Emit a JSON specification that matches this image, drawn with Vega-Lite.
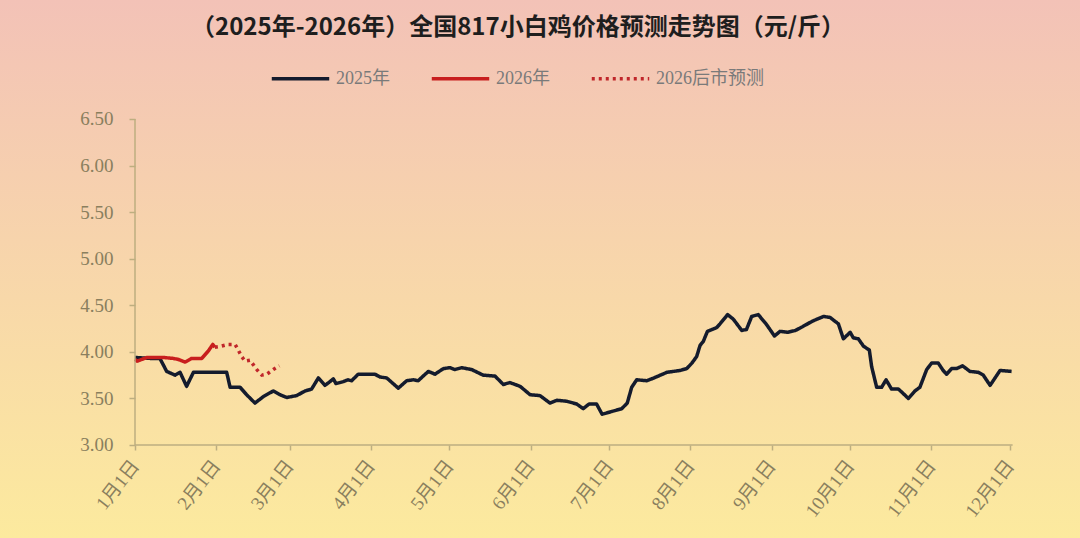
{
  "$schema": "https://vega.github.io/schema/vega-lite/v6.json",
  "width": 1080,
  "height": 538,
  "autosize": {"type": "none"},
  "padding": 0,
  "background": "#F8D8AC",
  "view": {
    "fill": {"gradient": "linear", "x1": 0, "y1": 0, "x2": 0, "y2": 1,
      "stops": [{"offset": 0, "color": "#F3C2B7"}, {"offset": 1, "color": "#FCEA9E"}]},
    "stroke": null
  },
  "title": {
    "text": "（2025年-2026年）全国817小白鸡价格预测走势图（元/斤）",
    "font": "Noto Sans CJK SC",
    "fontSize": 24,
    "fontWeight": "bold",
    "color": "#1E1E1E",
    "anchor": "middle",
    "frame": "group",
    "baseline": "middle",
    "offset": -52,
    "dx": -22
  },
  "datasets": {
    "price": [
      {"series": "2025年", "day": 0, "price": 3.94},
      {"series": "2025年", "day": 5.7, "price": 3.93},
      {"series": "2025年", "day": 9.5, "price": 3.93},
      {"series": "2025年", "day": 12.1, "price": 3.79},
      {"series": "2025年", "day": 15.3, "price": 3.75},
      {"series": "2025年", "day": 17.2, "price": 3.78},
      {"series": "2025年", "day": 19.7, "price": 3.63},
      {"series": "2025年", "day": 22.3, "price": 3.78},
      {"series": "2025年", "day": 35.0, "price": 3.78},
      {"series": "2025年", "day": 36.3, "price": 3.62},
      {"series": "2025年", "day": 40.1, "price": 3.62},
      {"series": "2025年", "day": 42.6, "price": 3.54},
      {"series": "2025年", "day": 45.8, "price": 3.45},
      {"series": "2025年", "day": 49.0, "price": 3.52},
      {"series": "2025年", "day": 52.8, "price": 3.58},
      {"series": "2025年", "day": 55.3, "price": 3.54},
      {"series": "2025年", "day": 57.9, "price": 3.51},
      {"series": "2025年", "day": 61.7, "price": 3.53},
      {"series": "2025年", "day": 64.9, "price": 3.58},
      {"series": "2025年", "day": 67.4, "price": 3.60},
      {"series": "2025年", "day": 70.0, "price": 3.72},
      {"series": "2025年", "day": 72.5, "price": 3.64},
      {"series": "2025年", "day": 74.4, "price": 3.68},
      {"series": "2025年", "day": 75.7, "price": 3.71},
      {"series": "2025年", "day": 76.7, "price": 3.66},
      {"series": "2025年", "day": 79.5, "price": 3.68},
      {"series": "2025年", "day": 81.3, "price": 3.70},
      {"series": "2025年", "day": 82.7, "price": 3.69},
      {"series": "2025年", "day": 85.2, "price": 3.76},
      {"series": "2025年", "day": 91.6, "price": 3.76},
      {"series": "2025年", "day": 93.5, "price": 3.73},
      {"series": "2025年", "day": 96.1, "price": 3.72},
      {"series": "2025年", "day": 100.5, "price": 3.61},
      {"series": "2025年", "day": 103.7, "price": 3.69},
      {"series": "2025年", "day": 106.2, "price": 3.70},
      {"series": "2025年", "day": 108.1, "price": 3.69},
      {"series": "2025年", "day": 110.0, "price": 3.74},
      {"series": "2025年", "day": 112.0, "price": 3.79},
      {"series": "2025年", "day": 114.5, "price": 3.76},
      {"series": "2025年", "day": 117.7, "price": 3.82},
      {"series": "2025年", "day": 120.2, "price": 3.83},
      {"series": "2025年", "day": 122.1, "price": 3.81},
      {"series": "2025年", "day": 124.7, "price": 3.83},
      {"series": "2025年", "day": 128.5, "price": 3.81},
      {"series": "2025年", "day": 132.9, "price": 3.75},
      {"series": "2025年", "day": 137.4, "price": 3.74},
      {"series": "2025年", "day": 140.6, "price": 3.65},
      {"series": "2025年", "day": 143.1, "price": 3.67},
      {"series": "2025年", "day": 147.0, "price": 3.63},
      {"series": "2025年", "day": 150.8, "price": 3.54},
      {"series": "2025年", "day": 154.6, "price": 3.53},
      {"series": "2025年", "day": 158.4, "price": 3.45},
      {"series": "2025年", "day": 161.0, "price": 3.48},
      {"series": "2025年", "day": 164.8, "price": 3.47},
      {"series": "2025年", "day": 168.6, "price": 3.44},
      {"series": "2025年", "day": 171.1, "price": 3.39},
      {"series": "2025年", "day": 173.3, "price": 3.44},
      {"series": "2025年", "day": 176.2, "price": 3.44},
      {"series": "2025年", "day": 178.3, "price": 3.33},
      {"series": "2025年", "day": 182.0, "price": 3.36},
      {"series": "2025年", "day": 185.8, "price": 3.39},
      {"series": "2025年", "day": 187.9, "price": 3.45},
      {"series": "2025年", "day": 189.6, "price": 3.62},
      {"series": "2025年", "day": 191.5, "price": 3.70},
      {"series": "2025年", "day": 195.4, "price": 3.69},
      {"series": "2025年", "day": 198.1, "price": 3.72},
      {"series": "2025年", "day": 203.0, "price": 3.78},
      {"series": "2025年", "day": 208.0, "price": 3.80},
      {"series": "2025年", "day": 210.6, "price": 3.82},
      {"series": "2025年", "day": 212.6, "price": 3.88},
      {"series": "2025年", "day": 214.4, "price": 3.95},
      {"series": "2025年", "day": 215.7, "price": 4.07},
      {"series": "2025年", "day": 216.9, "price": 4.11},
      {"series": "2025年", "day": 218.5, "price": 4.22},
      {"series": "2025年", "day": 222.0, "price": 4.26},
      {"series": "2025年", "day": 223.3, "price": 4.30},
      {"series": "2025年", "day": 226.2, "price": 4.40},
      {"series": "2025年", "day": 228.4, "price": 4.35},
      {"series": "2025年", "day": 231.6, "price": 4.23},
      {"series": "2025年", "day": 233.4, "price": 4.24},
      {"series": "2025年", "day": 235.4, "price": 4.38},
      {"series": "2025年", "day": 237.9, "price": 4.40},
      {"series": "2025年", "day": 240.9, "price": 4.30},
      {"series": "2025年", "day": 244.1, "price": 4.17},
      {"series": "2025年", "day": 246.2, "price": 4.22},
      {"series": "2025年", "day": 249.1, "price": 4.21},
      {"series": "2025年", "day": 252.1, "price": 4.23},
      {"series": "2025年", "day": 254.8, "price": 4.27},
      {"series": "2025年", "day": 258.6, "price": 4.33},
      {"series": "2025年", "day": 262.8, "price": 4.38},
      {"series": "2025年", "day": 265.3, "price": 4.37},
      {"series": "2025年", "day": 268.5, "price": 4.30},
      {"series": "2025年", "day": 270.4, "price": 4.14},
      {"series": "2025年", "day": 273.0, "price": 4.21},
      {"series": "2025年", "day": 274.2, "price": 4.15},
      {"series": "2025年", "day": 276.1, "price": 4.14},
      {"series": "2025年", "day": 278.1, "price": 4.06},
      {"series": "2025年", "day": 280.3, "price": 4.02},
      {"series": "2025年", "day": 281.2, "price": 3.84},
      {"series": "2025年", "day": 283.1, "price": 3.62},
      {"series": "2025年", "day": 285.0, "price": 3.62},
      {"series": "2025年", "day": 286.7, "price": 3.70},
      {"series": "2025年", "day": 288.8, "price": 3.60},
      {"series": "2025年", "day": 291.4, "price": 3.60},
      {"series": "2025年", "day": 292.6, "price": 3.57},
      {"series": "2025年", "day": 295.2, "price": 3.50},
      {"series": "2025年", "day": 297.7, "price": 3.58},
      {"series": "2025年", "day": 299.6, "price": 3.62},
      {"series": "2025年", "day": 302.2, "price": 3.81},
      {"series": "2025年", "day": 304.1, "price": 3.88},
      {"series": "2025年", "day": 306.6, "price": 3.88},
      {"series": "2025年", "day": 308.5, "price": 3.80},
      {"series": "2025年", "day": 309.8, "price": 3.76},
      {"series": "2025年", "day": 311.7, "price": 3.82},
      {"series": "2025年", "day": 313.6, "price": 3.82},
      {"series": "2025年", "day": 315.9, "price": 3.85},
      {"series": "2025年", "day": 318.7, "price": 3.79},
      {"series": "2025年", "day": 321.9, "price": 3.78},
      {"series": "2025年", "day": 323.8, "price": 3.75},
      {"series": "2025年", "day": 326.4, "price": 3.64},
      {"series": "2025年", "day": 330.2, "price": 3.80},
      {"series": "2025年", "day": 334.6, "price": 3.79},
      {"series": "2026年", "day": 0, "price": 3.92},
      {"series": "2026年", "day": 0.8, "price": 3.90},
      {"series": "2026年", "day": 4.6, "price": 3.94},
      {"series": "2026年", "day": 10.7, "price": 3.94},
      {"series": "2026年", "day": 14.5, "price": 3.93},
      {"series": "2026年", "day": 16.4, "price": 3.92},
      {"series": "2026年", "day": 19.1, "price": 3.89},
      {"series": "2026年", "day": 21.6, "price": 3.93},
      {"series": "2026年", "day": 25.5, "price": 3.93},
      {"series": "2026年", "day": 28.0, "price": 4.01},
      {"series": "2026年", "day": 29.7, "price": 4.08},
      {"series": "2026年", "day": 30.5, "price": 4.05},
      {"series": "2026后市预测", "day": 30.5, "price": 4.05},
      {"series": "2026后市预测", "day": 32.8, "price": 4.06},
      {"series": "2026后市预测", "day": 35.6, "price": 4.08},
      {"series": "2026后市预测", "day": 38.2, "price": 4.08},
      {"series": "2026后市预测", "day": 39.4, "price": 4.02},
      {"series": "2026后市预测", "day": 40.7, "price": 3.95},
      {"series": "2026后市预测", "day": 42.0, "price": 3.90},
      {"series": "2026后市预测", "day": 43.9, "price": 3.91},
      {"series": "2026后市预测", "day": 45.2, "price": 3.86},
      {"series": "2026后市预测", "day": 46.5, "price": 3.81},
      {"series": "2026后市预测", "day": 48.4, "price": 3.75},
      {"series": "2026后市预测", "day": 50.3, "price": 3.76},
      {"series": "2026后市预测", "day": 52.8, "price": 3.81},
      {"series": "2026后市预测", "day": 55.1, "price": 3.85}
    ]
  },
  "layer": [
    {
      "data": {"name": "price"},
      "mark": {"type": "line", "strokeWidth": 3.5, "strokeJoin": "round", "strokeCap": "butt"},
      "encoding": {
        "x": {
          "field": "day", "type": "quantitative",
          "scale": {"domain": [-51.53, 360.72], "nice": false, "zero": false},
          "axis": {
            "title": null,
            "values": [0, 31, 59, 90, 120, 151, 181, 212, 243, 273, 304, 334],
            "labelExpr": "['1月1日','2月1日','3月1日','4月1日','5月1日','6月1日','7月1日','8月1日','9月1日','10月1日','11月1日','12月1日'][indexof([0,31,59,90,120,151,181,212,243,273,304,334], datum.value)]",
            "offset": -93,
            "domain": false,
            "grid": false,
            "tickSize": 5,
            "tickColor": "#BDAE80",
            "tickWidth": 1.5,
            "labelAngle": -52,
            "labelAlign": "right",
            "labelBaseline": "middle",
            "labelPadding": 12,
            "labelOverlap": false,
            "labelFont": "Liberation Serif, Noto Sans CJK SC",
            "labelFontSize": 19,
            "labelColor": "#8A7F5E"
          }
        },
        "y": {
          "field": "price", "type": "quantitative",
          "scale": {"domain": [2.0015, 7.7776], "nice": false, "zero": false},
          "axis": {
            "title": null,
            "values": [3, 3.5, 4, 4.5, 5, 5.5, 6, 6.5],
            "format": ".2f",
            "offset": -135,
            "domain": false,
            "grid": false,
            "tickSize": 6,
            "tickColor": "#BDAE80",
            "tickWidth": 1.5,
            "labelPadding": 16,
            "labelFont": "Liberation Serif",
            "labelFontSize": 19,
            "labelColor": "#8A7F5E"
          }
        },
        "color": {
          "field": "series", "type": "nominal",
          "scale": {"domain": ["2025年", "2026年", "2026后市预测"], "range": ["#141B2D", "#C81E1E", "#C0262A"]},
          "legend": {
            "title": null,
            "orient": "none",
            "legendX": 270,
            "legendY": 48,
            "direction": "horizontal",
            "symbolType": "stroke",
            "symbolSize": 3300,
            "symbolStrokeWidth": 3.5,
            "labelFont": "Liberation Serif, Noto Sans CJK SC",
            "labelFontSize": 18,
            "labelColor": "#7A7A7A",
            "labelOffset": 5,
            "columnPadding": 34,
            "padding": 0
          }
        },
        "strokeDash": {
          "field": "series", "type": "nominal",
          "scale": {"domain": ["2025年", "2026年", "2026后市预测"], "range": [[1, 0], [1, 0], [3, 4]]},
          "legend": {
            "title": null,
            "orient": "none",
            "legendX": 270,
            "legendY": 48,
            "direction": "horizontal",
            "symbolType": "stroke",
            "symbolSize": 3300,
            "symbolStrokeWidth": 3.5,
            "labelFont": "Liberation Serif, Noto Sans CJK SC",
            "labelFontSize": 18,
            "labelColor": "#7A7A7A",
            "labelOffset": 5,
            "columnPadding": 34,
            "padding": 0
          }
        }
      }
    },
    {
      "data": {"values": [{}]},
      "mark": {"type": "rule", "color": "#BDAE80", "strokeWidth": 1.5},
      "encoding": {"x": {"datum": 0, "type": "quantitative"}, "y": {"datum": 3, "type": "quantitative"}, "y2": {"datum": 6.5}}
    },
    {
      "data": {"values": [{}]},
      "mark": {"type": "rule", "color": "#BDAE80", "strokeWidth": 1.5},
      "encoding": {"x": {"datum": 0, "type": "quantitative"}, "x2": {"datum": 335}, "y": {"datum": 3, "type": "quantitative"}}
    }
  ]
}
